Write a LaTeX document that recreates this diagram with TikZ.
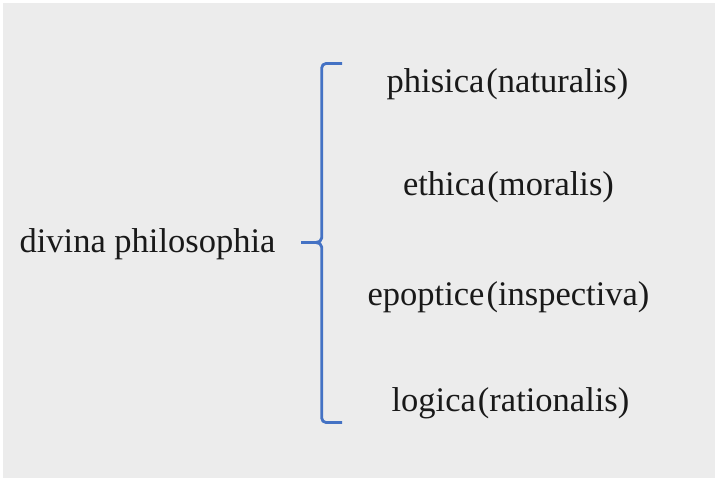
\documentclass[tikz,border=0pt]{standalone}
\usepackage{fontspec}
\setmainfont{Liberation Serif}
\definecolor{bgray}{HTML}{ECECEC}
\definecolor{braceblue}{HTML}{4472C4}
\tikzset{
  lbl/.style={anchor=base, inner sep=0pt, font=\fontsize{34.5}{41}\selectfont, text=black!90},
  bracel/.style={draw=braceblue, line width=2.8pt, line cap=butt, line join=round}
}
\newcommand{\lp}{\hspace{0.06em}(}
\newcommand{\rp}{)\hspace{0.03em}}
\begin{document}
\begin{tikzpicture}[x=1pt,y=-1pt]
\useasboundingbox (0,0) rectangle (715,478);
\fill[white] (0,0) rectangle (715,478);
\fill[bgray] (3,3) rectangle (715,478);
\node[lbl] (root) at (147.5,253) {divina philosophia};
\node[lbl] (a) at (507.5,93) {phisica\lp naturalis\rp};
\node[lbl] (b) at (508.5,196) {ethica\lp moralis\rp};
\node[lbl] (c) at (508.5,306) {epoptice\lp inspectiva\rp};
\node[lbl] (d) at (510.5,411) {logica\lp rationalis\rp};
\coordinate (top) at (342,63.5);
\coordinate (bot) at (342,422.5);
\coordinate (tip) at (301,242.5);
\draw[bracel] (top) -- (326,63.5) to[out=180,in=90] (321.7,68) -- (321.7,238) to[out=-90,in=0] (316,242.5) -- (tip);
\draw[bracel] (tip) -- (316,242.5) to[out=0,in=90] (321.7,247) -- (321.7,418) to[out=-90,in=180] (326,422.5) -- (bot);
\end{tikzpicture}
\end{document}
